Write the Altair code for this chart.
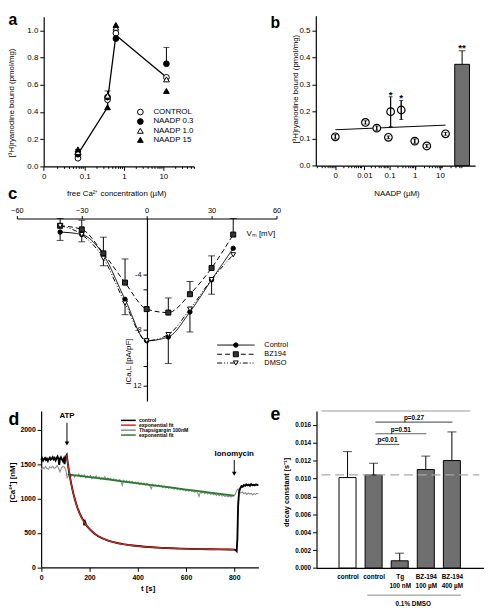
import altair as alt
import pandas as pd

W, H = 484, 603
FONT = "Liberation Sans"

# ================= DATA =================
# ---- panel a : [3H]ryanodine binding vs free Ca2+
a_conc = [0.067, 0.38, 0.62, 12.0]
a_control = [0.06, 0.49, 0.98, 0.655]
a_naadp03 = [0.09, 0.51, 0.94, 0.755]
a_naadp10 = [0.105, 0.52, 1.02, 0.64]
a_naadp15 = [0.125, 0.435, 1.04, 0.555]
a_line_x = [0.067, 0.38, 0.39, 0.62, 12.0]
a_line_y = [0.09, 0.435, 0.51, 0.965, 0.655]
a_err_x = [0.067, 0.38, 12.0]
a_err_lo = [0.09, 0.51, 0.755]
a_err_hi = [0.125, 0.555, 0.875]
a_names = ["CONTROL", "NAADP 0.3", "NAADP 1.0", "NAADP 15"]
a_key_y = [0.40, 0.33, 0.262, 0.195]

# ---- panel b : binding vs NAADP
b_conc = [0.0007, 0.011, 0.031, 0.0895, 0.11, 0.29, 1.0, 3.0, 16.6]
b_bound = [0.107, 0.16, 0.139, 0.105, 0.20, 0.206, 0.091, 0.073, 0.118]
b_sem = [0.008, 0.006, 0.008, 0.005, 0.055, 0.035, 0.008, 0.005, 0.005]
b_fit_x = [0.0007, 16.6]
b_fit_y = [0.133, 0.15]
b_bar_x = [75.7]
b_bar_y = [0.375]
b_bar_err = [0.425]
b_star_x = [0.11, 0.29, 75.7]
b_star_y = [0.27, 0.256, 0.443]
b_star_t = ["*", "*", "**"]

# ---- panel c : I-V curves (current magnitude, pA/pF)
c_vm = [-40, -30, -20, -10, 0, 10, 20, 30, 40]
c_control = [0.97, 1.15, 2.6, 5.8, 8.77, 8.5, 6.7, 4.4, 2.14]
c_bz194 = [0.52, 0.78, 2.5, 4.6, 6.5, 6.75, 5.43, 3.55, 1.15]
c_dmso = [0.52, 1.15, 2.85, 6.07, 8.77, 8.33, 6.5, 4.38, 2.6]
c_control_err = [1.57, 1.67, 3.39, 6.9, None, 10.4, 8.14, 5.43, None]
c_bz194_err = [0.0, 0.12, 1.34, 2.9, None, 5.7, 4.52, 2.68, 0.0]
c_names = ["Control", "BZ194", "DMSO"]
c_key_y = [9.08, 9.74, 10.37]

# ---- panel d : Ca2+ traces
d_ctrl_t = [0, 4, 8, 12, 16, 20, 24, 28, 32, 36,
            40, 44, 48, 52, 56, 60, 64, 68, 72, 75,
            78, 82, 86, 90, 94, 97, 100, 103, 106,
            110, 115, 120, 125, 130, 135, 140, 145, 150, 160,
            170, 176, 179, 182, 186, 190, 200, 210, 220, 235,
            250, 265, 280, 300, 320, 340, 360, 380, 400, 430,
            460, 500, 540, 580, 620, 660, 700, 740, 780, 800,
            806, 810, 813, 816, 820, 825, 830, 835, 840, 845,
            850, 855, 860, 865, 870, 875, 880, 885, 890, 895, 900]
d_ctrl_v = [1560, 1585, 1550, 1575, 1590, 1560, 1580, 1545, 1575, 1595,
            1565, 1580, 1600, 1570, 1590, 1555, 1585, 1610, 1575, 1490,
            1580, 1600, 1570, 1545, 1580, 1500, 1590, 1610, 1630,
            1520, 1400, 1300, 1210, 1125, 1050, 985, 925, 870, 780,
            710, 680, 610, 660, 620, 600, 560, 525, 492, 455,
            428, 405, 386, 366, 350, 337, 326, 318, 310, 300,
            292, 283, 277, 272, 268, 265, 263, 262, 260, 258,
            250, 235, 420, 900, 1100, 1150, 1180, 1170, 1195, 1185,
            1205, 1190, 1200, 1185, 1210, 1195, 1200, 1190, 1205, 1195, 1200]
d_red_t = [105, 110, 115, 120, 130, 140, 150, 160, 170, 180,
           190, 200, 215, 230, 250, 275, 300, 325, 350, 400,
           450, 500, 550, 600, 650, 700, 750, 800]
d_red_v = [1628, 1510, 1400, 1300, 1120, 985, 865, 775, 705, 645,
           598, 557, 510, 470, 430, 392, 366, 346, 331, 309,
           293, 283, 276, 270, 266, 263, 261, 259]
d_tg_t = list(range(0, 901, 6))
d_tg_v = [1420, 1455, 1430, 1465, 1440, 1425, 1460, 1445, 1470, 1435,
          1450, 1480, 1440, 1385, 1445, 1470, 1455, 1420, 1300, 1330,
          1360, 1325, 1350, 1310, 1345, 1330, 1355, 1315, 1340, 1320,
          1345, 1300, 1330, 1310, 1335, 1290, 1320, 1305, 1330, 1295,
          1315, 1280, 1305, 1290, 1315, 1275, 1300, 1280, 1295, 1265,
          1285, 1260, 1280, 1250, 1275, 1255, 1190, 1265, 1240, 1260,
          1235, 1255, 1230, 1250, 1220, 1240, 1215, 1235, 1205, 1230,
          1210, 1225, 1195, 1220, 1200, 1185, 1140, 1205, 1180, 1200,
          1175, 1195, 1170, 1185, 1160, 1180, 1155, 1175, 1150, 1170,
          1145, 1160, 1135, 1155, 1130, 1150, 1125, 1145, 1120, 1135,
          1110, 1130, 1105, 1125, 1100, 1115, 1095, 1110, 1085, 1030,
          1100, 1080, 1095, 1070, 1090, 1065, 1085, 1060, 1075, 1055,
          1070, 1045, 1065, 1040, 1060, 1035, 1050, 1030, 1045, 1025,
          1040, 1020, 1035, 1045, 1060, 1120, 1140, 1100, 1080, 1095,
          1070, 1085, 1060, 1080, 1065, 1075, 1055, 1070, 1060, 1075,
          1065]
d_green_t = [110, 200, 300, 400, 500, 600, 700, 800]
d_green_v = [1352, 1311, 1266, 1221, 1176, 1131, 1086, 1042]
d_key_names = ["control", "exponential fit", "Thapsigargin 100nM", "exponential fit"]
d_key_colors = ["black", "#d0281e", "#8c8c8c", "#2a7a2e"]
d_key_y = [2135, 2066, 1993, 1922]

# ---- panel e : decay constants
e_pos = [1, 2, 3, 4, 5]
e_mean = [0.0101, 0.0104, 0.0008, 0.0110, 0.0120]
e_top = [0.0130, 0.0117, 0.00165, 0.0125, 0.0152]
e_fill = ["white", "#6f6f6f", "#6f6f6f", "#6f6f6f", "#6f6f6f"]
e_name1 = ["control", "control", "Tg", "BZ-194", "BZ-194"]
e_name2 = ["", "", "100 nM", "100 \u00b5M", "400 \u00b5M"]
e_cmp_from = [2.07, 2.07, 2.07]
e_cmp_to = [2.99, 4.02, 5.02]
e_cmp_y = [0.0138, 0.0150, 0.0163]
e_cmp_p = ["p<0.01", "p=0.51", "p=0.27"]
e_ref = 0.0104

# ================= HELPERS =================
def axis(**kw):
    base = dict(grid=False, domainColor="black", domainWidth=1.2, tickColor="black",
                tickWidth=1, labelColor="black", titleColor="black", labelFont=FONT,
                titleFont=FONT, labelOverlap=False, labelFlush=False,
                titleFontWeight="normal", titleAlign="center", titleBaseline="middle")
    base.update(kw)
    return alt.Axis(**base)


def lin(dom, rng):
    return alt.Scale(type="linear", domain=dom, range=rng, nice=False, zero=False)


def logsc(dom, rng):
    return alt.Scale(type="log", domain=dom, range=rng, nice=False)


def enc_fns(XS, YS, XA, YA):
    fx = lambda f="x": alt.X(f"{f}:Q", scale=XS, axis=XA)
    fy = lambda f="y": alt.Y(f"{f}:Q", scale=YS, axis=YA)
    return fx, fy


def errbars(df, fx, fy, xf, lo, hi, cap, color="black"):
    r = alt.Chart(df).mark_rule(color=color, strokeWidth=1).encode(
        x=fx(xf), y=fy(lo), y2=f"{hi}:Q")
    c = alt.Chart(df).mark_tick(color=color, orient="horizontal", size=cap, thickness=1).encode(
        x=fx(xf), y=fy(hi))
    return [r, c]

# ================= PANEL A =================
A_XS = logsc([0.009, 60], [36.3, 189.0])
A_YS = lin([0, 1.1], [156.0, 3.9])
A_XA = axis(orient="bottom", offset=156.0 - H, values=[0.009, 0.1, 1, 10], format="~g",
            labelExpr="datum.value < 0.05 ? '0' : datum.label", tickSize=4, labelFontSize=8,
            labelPadding=2, title="free Ca\u00b2\u207a concentration (\u00b5M)", titleFontSize=8,
            titleX=110, titleY=28, titleAngle=0)
A_YA = axis(orient="left", offset=-36.3, values=[0, 0.2, 0.4, 0.6, 0.8, 1.0], format=".1f",
            tickSize=4, labelFontSize=8, labelPadding=2,
            title="[\u00b3H]ryanodine bound (pmol/mg)", titleFontSize=8,
            titleX=-32.3, titleY=91, titleAngle=270)
ax, ay = enc_fns(A_XS, A_YS, A_XA, A_YA)

a_layers = [alt.Chart(pd.DataFrame({"x": a_line_x, "y": a_line_y})).mark_line(
    color="black", strokeWidth=1.3).encode(x=ax(), y=ay())]
a_layers += errbars(pd.DataFrame({"x": a_err_x, "lo": a_err_lo, "hi": a_err_hi}),
                    ax, ay, "x", "lo", "hi", 6)
a_styles = [("circle", "white"), ("circle", "black"), ("triangle-up", "white"), ("triangle-up", "black")]
for vals, (shape, fill), yk in zip([a_control, a_naadp03, a_naadp10, a_naadp15], a_styles, a_key_y):
    df = pd.DataFrame({"x": a_conc + [2.6], "y": vals + [yk]})
    a_layers.append(alt.Chart(df).mark_point(shape=shape, filled=True, fill=fill, stroke="black",
                                             strokeWidth=1, size=34, opacity=1).encode(x=ax(), y=ay()))
a_layers.append(alt.Chart(pd.DataFrame({"x": [5.6] * 4, "y": a_key_y, "t": a_names})).mark_text(
    align="left", baseline="middle", fontSize=8, color="black").encode(x=ax(), y=ay(), text="t:N"))

a_minor = [round(k * 10.0 ** n, 6) for n in (-2, -1, 0, 1) for k in range(2, 10)
           if 0.009 <= k * 10.0 ** n <= 60]
a_minor_layer = alt.Chart(pd.DataFrame({"x": [1.0], "y": [0.5]})).mark_point(opacity=0).encode(
    x=alt.X("x:Q", scale=A_XS, axis=axis(orient="bottom", offset=156.0 - H, values=a_minor,
                                          labels=False, domain=False, tickSize=2, title=None)),
    y=alt.Y("y:Q", scale=A_YS, axis=None))

# ================= PANEL B =================
B_XS = logsc([0.000185, 159], [313.0, 475.0])
B_YS = lin([0, 0.555], [155.3, 2.7])
B_XA = axis(orient="bottom", offset=155.3 - H, values=[0.0007, 0.01, 0.1, 1, 10], format="~g",
            labelExpr="datum.value < 0.005 ? '0' : datum.label", tickSize=4, labelFontSize=8,
            labelPadding=2, title="NAADP (\u00b5M)", titleFontSize=8, titleX=395, titleY=28.4,
            titleAngle=0)
B_YA = axis(orient="left", offset=-313.0, values=[0, 0.1, 0.2, 0.3, 0.4, 0.5], format=".1f",
            tickSize=4, labelFontSize=8, labelPadding=2,
            title="[\u00b3H]ryanodine bound (pmol/mg)", titleFontSize=8,
            titleX=-21, titleY=77, titleAngle=270)
bx, by = enc_fns(B_XS, B_YS, B_XA, B_YA)

b_df = pd.DataFrame({"x": b_conc, "y": b_bound,
                     "lo": [v - s for v, s in zip(b_bound, b_sem)],
                     "hi": [v + s for v, s in zip(b_bound, b_sem)]})
b_bar_df = pd.DataFrame({"x": b_bar_x, "y": b_bar_y, "hi": b_bar_err})
b_layers = [
    alt.Chart(b_bar_df).mark_bar(size=15, color="#6f6f6f", stroke="black", strokeWidth=1,
                                 orient="vertical").encode(x=bx(), y=by(), y2=alt.datum(0)),
    alt.Chart(pd.DataFrame({"x": b_fit_x, "y": b_fit_y})).mark_line(
        color="black", strokeWidth=1).encode(x=bx(), y=by()),
    alt.Chart(b_df).mark_point(shape="circle", filled=True, fill="white", stroke="black",
                               strokeWidth=1.2, size=60, opacity=1).encode(x=bx(), y=by()),
]
b_layers += errbars(b_df, bx, by, "x", "lo", "hi", 4)
b_layers += errbars(b_df, bx, by, "x", "hi", "lo", 4)
b_layers += errbars(b_bar_df, bx, by, "x", "y", "hi", 7)
b_layers.append(alt.Chart(pd.DataFrame({"x": b_star_x, "y": b_star_y, "t": b_star_t})).mark_text(
    fontSize=10, fontWeight="bold", baseline="alphabetic", dy=5, color="black").encode(
    x=bx(), y=by(), text="t:N"))

b_minor = [round(k * 10.0 ** n, 8) for n in (-4, -3, -2, -1, 0, 1) for k in range(2, 10)
           if 0.0002 <= k * 10.0 ** n <= 50]
b_minor_layer = alt.Chart(pd.DataFrame({"x": [1.0], "y": [0.2]})).mark_point(opacity=0).encode(
    x=alt.X("x:Q", scale=B_XS, axis=axis(orient="bottom", offset=155.3 - H, values=b_minor,
                                          labels=False, domain=False, tickSize=2, title=None)),
    y=alt.Y("y:Q", scale=B_YS, axis=None))

# ================= PANEL C =================
C_XS = lin([-60, 60], [9.0, 273.0])
C_YS = lin([0, 13.1], [209.0, 394.6])
C_XA = axis(orient="top", offset=-209.0, values=[-60, -30, 0, 30, 60], tickSize=3,
            labelFontSize=7.5, labelPadding=1, title="V\u2098 [mV]", titleFontSize=8,
            titleX=242, titleY=15, titleAlign="left", titleAngle=0)
C_YA = axis(orient="left", offset=-141.3, values=[4, 5.1, 8, 10.6, 12],
            labelExpr="datum.value == 4 ? '-4' : datum.value == 8 ? '-8' : datum.value == 12 ? '12' : ''",
            tickSize=4, labelFontSize=7.5, labelPadding=2, title="ICa,L [pA/pF]", titleFontSize=8,
            titleX=-18.3, titleY=354, titleAngle=270)
cx, cy = enc_fns(C_XS, C_YS, C_XA, C_YA)

c_styles = [
    dict(vals=c_control, dash=[1, 0], shape="circle", fill="black", size=20),
    dict(vals=c_bz194, dash=[5, 3], shape="square", fill="#333333", size=26),
    dict(vals=c_dmso, dash=[5, 2, 1, 2, 1, 2], shape="triangle-down", fill="white", size=24),
]
c_layers = []
bz_err_df = pd.DataFrame({"x": c_vm, "y": c_bz194, "e": c_bz194_err}).dropna()
ct_err_df = pd.DataFrame({"x": c_vm, "y": c_control, "e": c_control_err}).dropna()
c_layers += errbars(bz_err_df, cx, cy, "x", "y", "e", 7)
c_layers += errbars(ct_err_df, cx, cy, "x", "y", "e", 7)
for st in c_styles:
    df = pd.DataFrame({"x": c_vm, "y": st["vals"]})
    c_layers.append(alt.Chart(df).mark_line(color="black", strokeWidth=1, strokeDash=st["dash"],
                                            interpolate="monotone").encode(x=cx(), y=cy()))
for st, yk in zip(c_styles, c_key_y):
    key = pd.DataFrame({"x": [32.6], "x2": [49.9], "y": [yk]})
    c_layers.append(alt.Chart(key).mark_rule(color="black", strokeWidth=1, strokeDash=st["dash"]).encode(
        x=cx(), x2="x2:Q", y=cy()))
for st, yk in zip(c_styles, c_key_y):
    df = pd.DataFrame({"x": c_vm + [41.2], "y": st["vals"] + [yk]})
    c_layers.append(alt.Chart(df).mark_point(shape=st["shape"], filled=True, fill=st["fill"],
                                             stroke="black", strokeWidth=1, size=st["size"],
                                             opacity=1).encode(x=cx(), y=cy()))
c_layers.append(alt.Chart(pd.DataFrame({"x": [54.4] * 3, "y": c_key_y, "t": c_names})).mark_text(
    align="left", baseline="middle", fontSize=7.5, color="black").encode(x=cx(), y=cy(), text="t:N"))

# ================= PANEL D =================
D_XS = lin([0, 900], [33.7, 254.6])
D_YS = lin([0, 2270], [563.7, 404.8])
D_XA = axis(orient="bottom", offset=563.7 - H, values=[0, 200, 400, 600, 800], format="d",
            tickSize=4, labelFontSize=7, labelFontWeight="bold", labelPadding=2, title="t [s]",
            titleFontSize=8, titleFontWeight="bold", titleX=142, titleY=22, titleAngle=0)
D_YA = axis(orient="left", offset=-33.7, values=[0, 500, 1000, 1500, 2000], format="d",
            tickSize=4, labelFontSize=7, labelFontWeight="bold", labelPadding=2,
            title="[Ca\u00b2\u207a] [nM]", titleFontSize=8, titleFontWeight="bold",
            titleX=-29.2, titleY=477, titleAngle=270)
dx, dy_ = enc_fns(D_XS, D_YS, D_XA, D_YA)

d_layers = [
    alt.Chart(pd.DataFrame({"x": d_tg_t, "y": d_tg_v})).mark_line(
        color="#8c8c8c", strokeWidth=1.1).encode(x=dx(), y=dy_()),
    alt.Chart(pd.DataFrame({"x": d_green_t, "y": d_green_v})).mark_line(
        color="#2a7a2e", strokeWidth=1.8, interpolate="monotone").encode(x=dx(), y=dy_()),
    alt.Chart(pd.DataFrame({"x": d_ctrl_t, "y": d_ctrl_v})).mark_line(
        color="black", strokeWidth=1.9).encode(x=dx(), y=dy_()),
    alt.Chart(pd.DataFrame({"x": d_red_t, "y": d_red_v})).mark_line(
        color="#d0281e", strokeWidth=1.3, interpolate="monotone").encode(x=dx(), y=dy_()),
]
arr = pd.DataFrame({"x": [107, 800], "y": [2100, 1560], "y2": [1800, 1360]})
d_layers.append(alt.Chart(arr).mark_rule(color="black", strokeWidth=1).encode(
    x=dx(), y=dy_(), y2="y2:Q"))
d_layers.append(alt.Chart(arr).mark_point(shape="triangle-down", filled=True, color="black",
                                          size=22, opacity=1).encode(x=dx(), y=dy_("y2")))
d_layers.append(alt.Chart(pd.DataFrame({"x": [107, 800], "y": [2200, 1640],
                                        "t": ["ATP", "Ionomycin"]})).mark_text(
    fontSize=8, fontWeight="bold", baseline="middle", color="black").encode(x=dx(), y=dy_(), text="t:N"))
key_d = pd.DataFrame({"x": [331] * 4, "x2": [392] * 4, "y": d_key_y, "c": d_key_colors,
                      "tx": [405] * 4, "t": d_key_names})
d_layers.append(alt.Chart(key_d).mark_rule(strokeWidth=1.5).encode(
    x=dx(), x2="x2:Q", y=dy_(), color=alt.Color("c:N", scale=None)))
d_layers.append(alt.Chart(key_d).mark_text(align="left", baseline="middle", fontSize=5.2,
                                          fontWeight="bold", color="black").encode(
    x=dx("tx"), y=dy_(), text="t:N"))

# ================= PANEL E =================
parts = []
for p, n1, n2 in zip(e_pos, e_name1, e_name2):
    lab = f"['{n1}', '{n2}']" if n2 else f"'{n1}'"
    parts.append((p, lab))
e_expr = ""
for p, lab in parts[:-1]:
    e_expr += f"datum.value == {p} ? {lab} : "
e_expr += parts[-1][1]

E_XS = lin([0, 6.05], [313.7, 484.2])
E_YS = lin([0, 0.01755], [564.3, 404.6])
E_XA = axis(orient="bottom", offset=564.3 - H, values=e_pos, ticks=False, tickSize=0,
            labelExpr=e_expr, labelBaseline="top", labelLineHeight=9.3, labelPadding=6,
            labelFontSize=6.5, labelFontWeight="bold", title=None)
E_YA = axis(orient="left", offset=-313.7,
            values=[0, 0.002, 0.004, 0.006, 0.008, 0.010, 0.012, 0.014, 0.016], format=".3f",
            tickSize=4, labelFontSize=6.5, labelFontWeight="bold", labelPadding=2,
            title="decay constant [s\u207b\u00b9]", titleFontSize=7.5, titleFontWeight="bold",
            titleX=-30, titleY=487, titleAngle=270)
ex, ey = enc_fns(E_XS, E_YS, E_XA, E_YA)

e_df = pd.DataFrame({"x": e_pos, "y": e_mean, "hi": e_top, "f": e_fill})
cmp_df = pd.DataFrame({"x": e_cmp_from, "x2": e_cmp_to, "y": e_cmp_y, "t": e_cmp_p,
                       "mx": [(a + b) / 2 for a, b in zip(e_cmp_from, e_cmp_to)]})
e_layers = [
    alt.Chart(pd.DataFrame({"x": [0.0], "x2": [5.71], "y": [0.01755]})).mark_rule(
        color="#bbbbbb", strokeWidth=1.5).encode(x=ex(), x2="x2:Q", y=ey()),
    alt.Chart(e_df).mark_bar(size=17.3, stroke="black", strokeWidth=1, orient="vertical").encode(
        x=ex(), y=ey(), y2=alt.datum(0), fill=alt.Fill("f:N", scale=None)),
]
e_layers += errbars(e_df, ex, ey, "x", "y", "hi", 9)
e_layers += [
    alt.Chart(pd.DataFrame({"x": [0.0], "x2": [6.05], "y": [e_ref]})).mark_rule(
        color="#a8a8a8", strokeWidth=1.5, strokeDash=[9, 5]).encode(x=ex(), x2="x2:Q", y=ey()),
    alt.Chart(cmp_df).mark_rule(color="#666666", strokeWidth=1.2).encode(x=ex(), x2="x2:Q", y=ey()),
    alt.Chart(cmp_df).mark_text(fontSize=6.5, fontWeight="bold", baseline="bottom", dy=-1,
                                color="black").encode(x=ex("mx"), y=ey(), text="t:N"),
    alt.Chart(pd.DataFrame({"x": [1.76], "x2": [5.34], "y": [-0.00304]})).mark_rule(
        color="#888888", strokeWidth=1).encode(x=ex(), x2="x2:Q", y=ey()),
    alt.Chart(pd.DataFrame({"x": [3.52], "y": [-0.00403], "t": ["0.1% DMSO"]})).mark_text(
        fontSize=6.5, fontWeight="bold", baseline="middle", color="black").encode(
        x=ex(), y=ey(), text="t:N"),
]

# ================= PANEL LETTERS =================
L_XS = lin([0, W], [0, W])
L_YS = lin([0, H], [0, H])
letters = pd.DataFrame({"t": ["a", "b", "c", "d", "e"],
                        "x": [0.5, 267, 0.0, 0.5, 267],
                        "y": [12, 15.3, 189, 419, 414],
                        "s": [16, 16, 17, 18, 18]})
letters_layer = alt.Chart(letters).mark_text(align="left", baseline="alphabetic",
                                             fontWeight="bold", color="black").encode(
    x=alt.X("x:Q", scale=L_XS, axis=None), y=alt.Y("y:Q", scale=L_YS, axis=None),
    text="t:N", size=alt.Size("s:Q", scale=None))

chart = alt.layer(
    alt.layer(*a_layers), a_minor_layer,
    alt.layer(*b_layers), b_minor_layer,
    alt.layer(*c_layers),
    alt.layer(*d_layers),
    alt.layer(*e_layers),
    letters_layer,
).resolve_scale(x="independent", y="independent").properties(
    width=W, height=H, padding=0, autosize=alt.AutoSizeParams(type="none")
).configure(font=FONT).configure_view(stroke=None)

chart.save("out.html", embed_options={"renderer": "svg", "actions": False})
